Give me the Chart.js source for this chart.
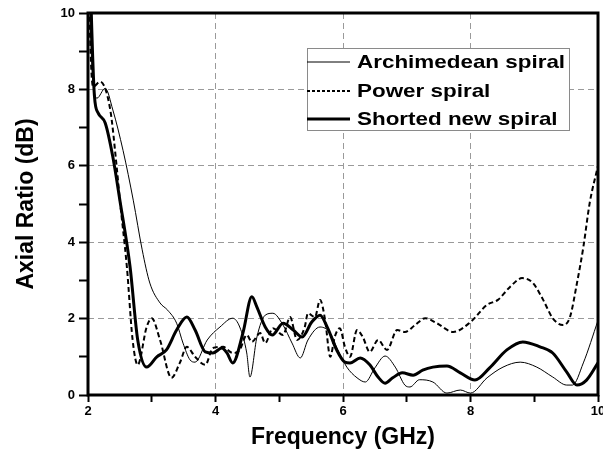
<!DOCTYPE html>
<html>
<head>
<meta charset="utf-8">
<script src="https://cdn.jsdelivr.net/npm/chart.js@4/dist/chart.umd.min.js"></script>
<style>
  body { margin: 0; background: #fff; }
  #chart { display: block; }
</style>
</head>
<body>
<canvas id="chart" width="603" height="460"></canvas>
<script>
// Archimedean spiral (thin solid)
const archFreq = [2.0, 2.05, 2.14, 2.27, 2.39, 2.55, 2.71, 2.85, 2.97, 3.13, 3.25, 3.39, 3.49, 3.6, 3.68, 3.87, 4.07, 4.27, 4.38, 4.49, 4.54, 4.65, 4.78, 4.9, 5.06, 5.2, 5.33, 5.45, 5.64, 5.8, 5.92, 6.06, 6.22, 6.35, 6.5, 6.66, 6.82, 6.97, 7.05, 7.2, 7.41, 7.63, 7.84, 8.0, 8.26, 8.51, 8.78, 9.04, 9.29, 9.51, 9.6, 9.77, 10.0];
const archAR = [12, 9.0, 7.77, 8.03, 7.46, 6.4, 5.1, 3.8, 2.93, 2.41, 2.22, 1.88, 1.36, 0.92, 0.86, 1.44, 1.78, 2.01, 1.78, 1.1, 0.47, 1.52, 2.09, 2.14, 1.83, 1.36, 0.97, 1.44, 1.78, 1.62, 1.18, 0.73, 0.45, 0.34, 0.71, 1.02, 0.73, 0.26, 0.21, 0.4, 0.34, 0.05, 0.13, 0.05, 0.45, 0.73, 0.86, 0.73, 0.47, 0.26, 0.26, 0.84, 1.95];

// Power spiral (dashed)
const powerFreq = [2.0, 2.04, 2.08, 2.19, 2.35, 2.45, 2.5, 2.61, 2.7, 2.78, 2.92, 3.0, 3.13, 3.31, 3.44, 3.55, 3.68, 3.84, 3.96, 4.12, 4.27, 4.38, 4.49, 4.57, 4.7, 4.78, 4.9, 5.06, 5.17, 5.28, 5.4, 5.45, 5.56, 5.64, 5.72, 5.8, 5.87, 5.95, 6.03, 6.11, 6.22, 6.31, 6.42, 6.55, 6.69, 6.85, 6.97, 7.13, 7.29, 7.47, 7.73, 8.0, 8.26, 8.43, 8.62, 8.81, 8.98, 9.14, 9.29, 9.45, 9.56, 9.67, 9.77, 9.87, 10.0];
const powerAR = [12, 9.0, 8.07, 8.2, 7.46, 5.97, 5.1, 3.35, 1.44, 0.79, 1.78, 2.01, 1.44, 0.45, 0.84, 1.26, 1.0, 0.79, 1.23, 1.26, 1.1, 1.18, 1.57, 1.39, 1.62, 1.36, 1.75, 1.57, 2.04, 1.44, 1.78, 2.14, 2.04, 2.49, 1.96, 1.0, 1.52, 1.75, 1.26, 1.0, 1.7, 1.52, 1.13, 1.44, 1.18, 1.7, 1.65, 1.83, 2.01, 1.88, 1.65, 1.91, 2.36, 2.49, 2.83, 3.06, 2.93, 2.49, 2.01, 1.83, 2.04, 2.93, 3.87, 5.03, 6.0];

// Shorted new spiral (thick solid)
const shortFreq = [2.0, 2.1, 2.16, 2.27, 2.39, 2.5, 2.66, 2.78, 2.92, 3.08, 3.23, 3.39, 3.55, 3.68, 3.84, 3.96, 4.1, 4.18, 4.27, 4.43, 4.57, 4.65, 4.78, 4.89, 5.06, 5.22, 5.36, 5.51, 5.64, 5.76, 5.9, 6.03, 6.11, 6.27, 6.42, 6.55, 6.66, 6.78, 6.93, 7.1, 7.25, 7.41, 7.63, 7.84, 8.07, 8.3, 8.57, 8.82, 9.09, 9.29, 9.51, 9.67, 9.82, 10.0];
const shortAR = [13, 7.85, 7.38, 7.12, 6.23, 5.1, 3.35, 1.44, 0.73, 1.0, 1.18, 1.7, 2.04, 1.7, 1.13, 1.1, 1.23, 1.1, 0.84, 1.62, 2.57, 2.3, 1.78, 1.57, 1.88, 1.7, 1.52, 1.91, 2.09, 1.75, 1.18, 0.86, 0.84, 0.97, 0.79, 0.47, 0.31, 0.45, 0.58, 0.52, 0.65, 0.73, 0.76, 0.58, 0.39, 0.71, 1.18, 1.39, 1.26, 1.1, 0.6, 0.26, 0.39, 0.84];

const seriesNames = ["Archimedean spiral", "Power spiral", "Shorted new spiral"];
const xTicks = [2, 4, 6, 8, 10];
const yTicks = [0, 2, 4, 6, 8, 10];

const toPoints = (xs, ys) => xs.map((x, i) => ({ x: x, y: ys[i] }));

Chart.defaults.font.family = "'Liberation Sans', Arial, sans-serif";
Chart.defaults.color = "#000";

// frame around plot + legend box inside the plot
const framePlugin = {
    id: "frame",
    afterDraw(chart) {
        const { ctx, chartArea: a } = chart;
        ctx.save();
        ctx.strokeStyle = "#000";
        ctx.lineWidth = 3;
        ctx.strokeRect(a.left, a.top, a.right - a.left, a.bottom - a.top);

        // legend
        const bx = 307, by = 48, bw = 262, bh = 82;
        ctx.fillStyle = "#fff";
        ctx.fillRect(bx, by, bw, bh);
        ctx.strokeStyle = "#8a8a8a";
        ctx.lineWidth = 1;
        ctx.strokeRect(bx + 0.5, by + 0.5, bw, bh);

        const rows = [62, 91, 119];
        const styles = [
            { w: 1, dash: [] },
            { w: 2, dash: [3, 2] },
            { w: 3, dash: [] },
        ];
        ctx.font = "bold 19px 'Liberation Sans', Arial, sans-serif";
        ctx.textBaseline = "middle";
        ctx.fillStyle = "#000";
        rows.forEach((ry, i) => {
            ctx.strokeStyle = "#000";
            ctx.lineWidth = styles[i].w;
            ctx.setLineDash(styles[i].dash);
            ctx.beginPath();
            ctx.moveTo(bx, ry);
            ctx.lineTo(bx + 43, ry);
            ctx.stroke();
            ctx.setLineDash([]);
            // text in the reference is a bit wider than Arial
            ctx.save();
            ctx.translate(bx + 50, ry + 1);
            ctx.scale(1.18, 1);
            ctx.fillText(seriesNames[i], 0, 0);
            ctx.restore();
        });
        ctx.restore();
    },
};

const gridColor = (ctx) =>
    ctx.tick && ctx.tick.value % 2 === 0 ? "#9a9a9a" : "rgba(0,0,0,0)";

const ctx = document.getElementById("chart").getContext("2d");
new Chart(ctx, {
    type: "line",
    data: {
        datasets: [
            {
                label: seriesNames[0],
                data: toPoints(archFreq, archAR),
                borderColor: "#000",
                borderWidth: 1,
                pointRadius: 0,
                cubicInterpolationMode: "monotone",
                clip: 0,
            },
            {
                label: seriesNames[1],
                data: toPoints(powerFreq, powerAR),
                borderColor: "#000",
                borderWidth: 2,
                borderDash: [5, 3],
                pointRadius: 0,
                cubicInterpolationMode: "monotone",
                clip: 0,
            },
            {
                label: seriesNames[2],
                data: toPoints(shortFreq, shortAR),
                borderColor: "#000",
                borderWidth: 3,
                pointRadius: 0,
                cubicInterpolationMode: "monotone",
                clip: 0,
            },
        ],
    },
    options: {
        responsive: false,
        animation: false,
        layout: { padding: { top: 13, right: 5, left: 0, bottom: 0 } },
        plugins: {
            legend: { display: false },
            tooltip: { enabled: false },
        },
        scales: {
            x: {
                type: "linear",
                min: 2,
                max: 10,
                afterFit: (s) => {
                    s.height = 65;
                    s.paddingRight = 0;
                    s.paddingLeft = 0;
                },
                ticks: {
                    stepSize: 1,
                    autoSkip: false,
                    maxRotation: 0,
                    padding: 2,
                    font: { size: 13, weight: "bold" },
                    callback: (v) => (xTicks.includes(v) ? v : ""),
                },
                grid: {
                    color: gridColor,
                    lineWidth: 1,
                    tickColor: "#000",
                    tickLength: 7,
                    tickWidth: 2,
                },
                border: { display: false, dash: [6, 4] },
                title: {
                    display: true,
                    text: "Frequency (GHz)",
                    font: { size: 23, weight: "bold" },
                    padding: { top: 0, bottom: 9 },
                },
            },
            y: {
                min: 0,
                max: 10,
                afterFit: (s) => { s.width = 88; },
                ticks: {
                    stepSize: 1,
                    autoSkip: false,
                    padding: 4,
                    font: { size: 13, weight: "bold" },
                    callback: (v) => (yTicks.includes(v) ? v : ""),
                },
                grid: {
                    color: gridColor,
                    lineWidth: 1,
                    tickColor: "#000",
                    tickLength: 9,
                    tickWidth: 2,
                },
                border: { display: false, dash: [6, 4] },
                title: {
                    display: true,
                    text: "Axial Ratio (dB)",
                    font: { size: 23, weight: "bold" },
                    padding: { top: 13, bottom: 0 },
                },
            },
        },
    },
    plugins: [framePlugin],
});
</script>
</body>
</html>
